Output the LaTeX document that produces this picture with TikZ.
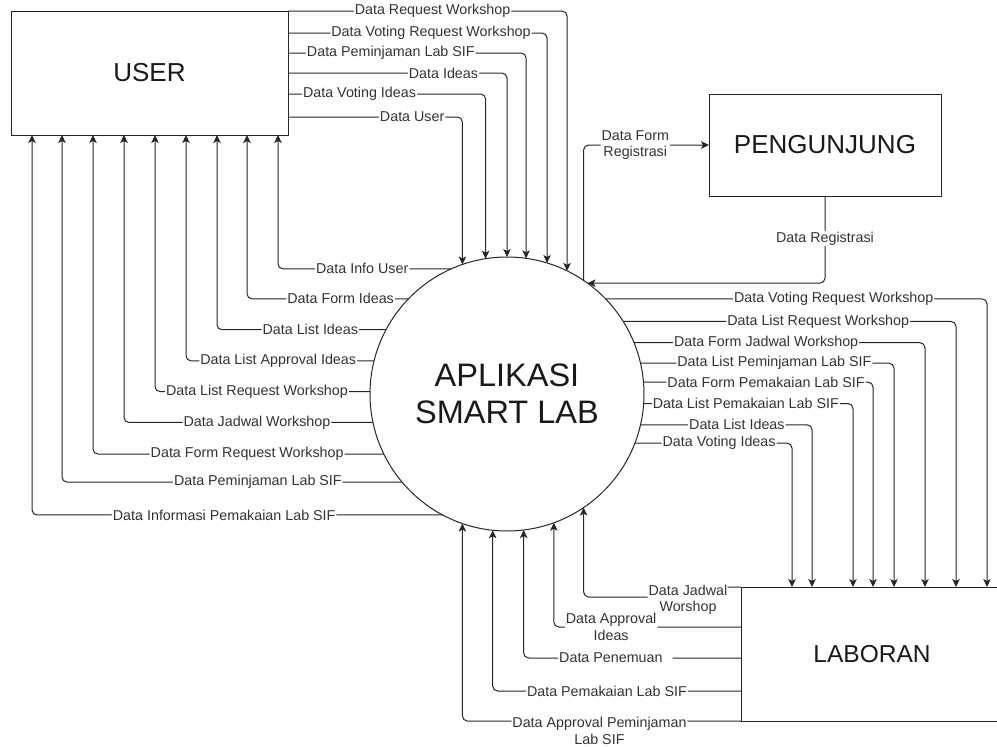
\documentclass[tikz,border=0pt]{standalone}
\usepackage{fontspec}
\setmainfont{Liberation Sans}
\usetikzlibrary{arrows.meta}

\begin{document}
\begin{tikzpicture}[x=1pt,y=-1pt,
  flow/.style={draw=black!85,line width=1pt,rounded corners=5pt,-{Stealth[length=8pt,width=7.5pt,inset=2pt]}},
  lbl/.style={fill=white,text=black!80,inner sep=1pt,align=center,font=\fontsize{14.3}{16.5}\selectfont},
  entity/.style={draw=black!85,line width=1pt,rectangle,outer sep=0pt,inner sep=0pt,text=black!90},
  process/.style={draw=black!85,line width=1pt,circle,outer sep=0pt,inner sep=0pt,align=center,text=black!90}]
 \useasboundingbox (0,0) rectangle (997,747);

 \node[entity,minimum width=277pt,minimum height=124pt,font=\fontsize{26}{30}\selectfont] (user) at (149.5,73) {USER};
 \node[entity,minimum width=232pt,minimum height=102pt,font=\fontsize{26}{30}\selectfont] (peng) at (825,145) {PENGUNJUNG};
 \node[entity,minimum width=262pt,minimum height=134pt,font=\fontsize{24.5}{28}\selectfont] (laboran) at (872,654) {LABORAN};
 \node[process,minimum size=274pt,font=\fontsize{32.5}{37}\selectfont] (app) at (507,394) {APLIKASI\\SMART LAB};

 \draw[flow] (user.north east) -| node[lbl,pos=0.259] {Data Request Workshop} (app.64.5);
 \draw[flow] ([yshift=-22pt]user.north east) -| node[lbl,pos=0.276] {Data Voting Request Workshop} (app.73.9);
 \draw[flow] ([yshift=-42pt]user.north east) -| node[lbl,pos=0.216] {Data Peminjaman Lab SIF} (app.82.9);
 \draw[flow] ([yshift=-62pt]user.north east) -| node[lbl,pos=0.355] {Data Ideas} (app.90.8);
 \draw[flow] ([yshift=-83pt]user.north east) -| node[lbl,pos=0.181] {Data Voting Ideas} (app.99.7);
 \draw[flow] ([yshift=-106pt]user.north east) -| node[lbl,pos=0.356] {Data User} (app.109.2);

 \draw[flow] (app.114.2) -| node[lbl,pos=0.257] {Data Info User} ([xshift=-10pt]user.south east);
 \draw[flow] (app.136.7) -| node[lbl,pos=0.21] {Data Form Ideas} ([xshift=-41pt]user.south east);
 \draw[flow] (app.152.6) -| node[lbl,pos=0.224] {Data List Ideas} ([xshift=-71pt]user.south east);
 \draw[flow] (app.166.5) -| node[lbl,pos=0.255] {Data List Approval Ideas} ([xshift=-102pt]user.south east);
 \draw[flow] (app.179.6) -| node[lbl,pos=0.263] {Data List Request Workshop} ([xshift=-133pt]user.south east);
 \draw[flow] (app.192.2) -| node[lbl,pos=0.233] {Data Jadwal Workshop} ([xshift=-164pt]user.south east);
 \draw[flow] (app.206.0) -| node[lbl,pos=0.235] {Data Form Request Workshop} ([xshift=-195pt]user.south east);
 \draw[flow] (app.220.5) -| node[lbl,pos=0.212] {Data Peminjaman Lab SIF} ([xshift=-226pt]user.south east);
 \draw[flow] (app.242.9) -| node[lbl,pos=0.266] {Data Informasi Pemakaian Lab SIF} ([xshift=-256pt]user.south east);

 \draw[flow] (app.56.3) |- node[lbl,pos=0.706] {Data Form\\Registrasi} (peng.west);
 \draw[flow] (peng.south) |- node[lbl,pos=0.244] {Data Registrasi} (app.54.8);

 \draw[flow] (app.44.5) -| node[lbl,pos=0.299] {Data Voting Request Workshop} ([xshift=246pt]laboran.north west);
 \draw[flow] (app.32.2) -| node[lbl,pos=0.293] {Data List Request Workshop} ([xshift=215pt]laboran.north west);
 \draw[flow] (app.22.3) -| node[lbl,pos=0.227] {Data Form Jadwal Workshop} ([xshift=184pt]laboran.north west);
 \draw[flow] (app.13.5) -| node[lbl,pos=0.264] {Data List Peminjaman Lab SIF} ([xshift=153pt]laboran.north west);
 \draw[flow] (app.5.0) -| node[lbl,pos=0.267] {Data Form Pemakaian Lab SIF} ([xshift=132pt]laboran.north west);
 \draw[flow] (app.356.2) -| node[lbl,pos=0.244] {Data List Pemakaian Lab SIF} ([xshift=112pt]laboran.north west);
 \draw[flow] (app.347.4) -| node[lbl,pos=0.281] {Data List Ideas} ([xshift=71pt]laboran.north west);
 \draw[flow] (app.339.0) -| node[lbl,pos=0.268] {Data Voting Ideas} ([xshift=51pt]laboran.north west);

 \draw[flow] (laboran.north west) -- ++(-53,0) -- node[lbl,yshift=-8pt] {Data Jadwal\\Worshop} ++(0,10) -| (app.304.7);
 \draw[flow] ([yshift=-40pt]laboran.north west) -| node[lbl,pos=0.347] {Data Approval\\Ideas} (app.290.5);
 \draw[flow] ([yshift=-71pt]laboran.north west) -| node[lbl,pos=0.289] {Data Penemuan\hspace{9pt}} (app.277.6);
 \draw[flow] ([yshift=-104pt]laboran.north west) -| node[lbl,pos=0.27] {Data Pemakaian Lab SIF} (app.264.6);
 \draw[flow] (laboran.south west) -| node[lbl,pos=0.254,yshift=-10pt] {Data Approval Peminjaman\\Lab SIF} (app.251.3);

\end{tikzpicture}
\end{document}
